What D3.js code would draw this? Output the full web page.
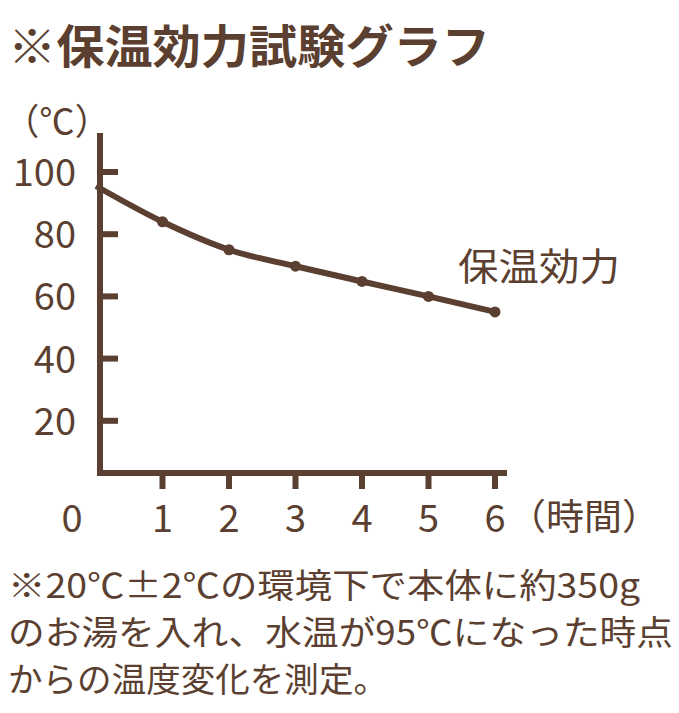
<!DOCTYPE html><html><head><meta charset="utf-8">
<script src="https://cdn.jsdelivr.net/npm/d3@7"></script>
<style>body{margin:0;background:#fff}</style></head><body>
<script>
const hours=[0,1,2,3,4,5,6];
const temps=[95.5,84,75,69.7,64.8,60,55];
const yTicks=[20,40,60,80,100];
const xTicks=[1,2,3,4,5,6];
const C="#5b3f30", F="'Noto Sans CJK JP',sans-serif";
const svg=d3.select("body").append("svg").attr("width",679).attr("height",713);
const x=d3.scaleLinear().domain([0,6]).range([96,495]);
const y=d3.scaleLinear().domain([0,100]).range([483,172]);
const t=(s,xx,yy,sz,a,w,len)=>{const e=svg.append("text").text(s).attr("x",xx).attr("y",yy).attr("font-size",sz).attr("font-family",F).attr("fill",C).attr("text-anchor",a||"start").attr("font-weight",w||400);
 if(len) e.attr("textLength",len).attr("lengthAdjust","spacingAndGlyphs"); return e;};
t("※保温効力試験グラフ",8,63,46,"start",700,482);
t("（℃）",4,135,36,"start",400,106);
svg.append("line").attr("x1",100).attr("x2",100).attr("y1",133).attr("y2",476).attr("stroke",C).attr("stroke-width",6);
svg.append("line").attr("x1",97).attr("x2",507).attr("y1",473).attr("y2",473).attr("stroke",C).attr("stroke-width",6);
yTicks.forEach(v=>{svg.append("line").attr("x1",100).attr("x2",118).attr("y1",y(v)).attr("y2",y(v)).attr("stroke",C).attr("stroke-width",6);
 t(v,76,y(v)+14,38,"end");});
xTicks.forEach(v=>{svg.append("line").attr("x1",x(v)).attr("x2",x(v)).attr("y1",473).attr("y2",489).attr("stroke",C).attr("stroke-width",6);
 t(v,x(v),532,38,"middle");});
t("0",72,532,38,"middle");
t("（時間）",508,530,36,"start",400,152);
svg.append("path").datum(hours.map((h,i)=>[x(h),y(temps[i])])).attr("d",d3.line().curve(d3.curveMonotoneX)).attr("fill","none").attr("stroke",C).attr("stroke-width",6);
svg.selectAll("circle").data(hours.slice(1)).enter().append("circle").attr("cx",d=>x(d)).attr("cy",d=>y(temps[d])).attr("r",5.5).attr("fill",C);
t("保温効力",458,280,38,"start",400,162);
t("※20℃±2℃の環境下で本体に約350g",8,598,34,"start",400,632);
t("のお湯を入れ、水温が95℃になった時点",8,645,34,"start",400,665);
t("からの温度変化を測定。",8,692,34,"start",400,380);
</script></body></html>
